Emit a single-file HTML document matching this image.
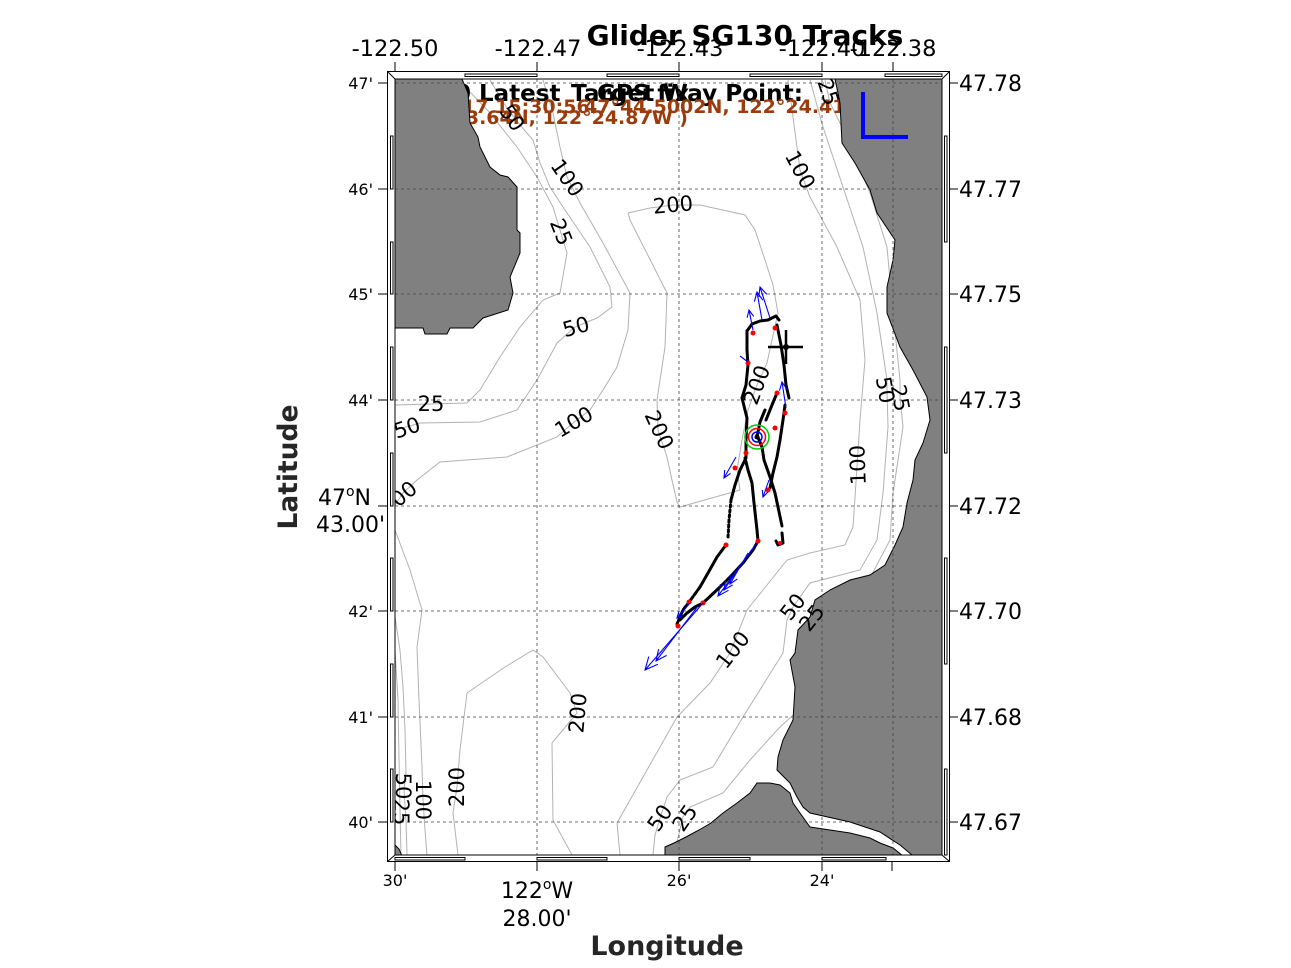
<!DOCTYPE html>
<html><head><meta charset="utf-8"><style>
html,body{margin:0;padding:0;background:#fff;}
svg{display:block;}
text{font-family:"DejaVu Sans","Liberation Sans",sans-serif;}
</style></head><body>
<svg width="1291" height="968" viewBox="0 0 1291 968" xmlns="http://www.w3.org/2000/svg">
<defs><clipPath id="map"><rect x="395" y="79" width="547" height="776"/></clipPath></defs>
<rect width="1291" height="968" fill="#fff"/>
<g clip-path="url(#map)">
<!-- contours -->
<g fill="none" stroke="#b2b2b2" stroke-width="1">
<polyline points="470,92 490,113 517,147 537,177 553,207 560,230 567,253 560,293 543,300 520,327 500,357 480,390 467,403 395,405"/>
<polyline points="490,80 505,105 520,125 533,140 540,163 550,187 563,207 590,247 610,287 612,307 597,318 575,327 557,343 537,380 517,410 480,422 420,423 395,430"/>
<polyline points="543,80 553,113 560,147 567,177 580,203 603,243 630,293 628,330 617,367 603,390 590,410 573,423 557,437 507,457 440,462 417,480 403,493 395,505"/>
<polyline points="395,530 410,570 422,610 417,647 419,700 422,767 423,800 425,830 427,855"/>
<polyline points="395,617 400,650 403,687 405,730 406,773 404,790 406,820 407,855"/>
<polyline points="395,650 398,700 399,760 400,810 401,855"/>
<polyline points="628,213 650,208 673,205 700,205 745,215 755,230 765,260 773,285 778,313 772,340 767,363 757,385 748,410 742,440 737,470 740,490 680,507 677,502 672,480 667,457 658,430 657,400 665,347 667,293 630,220 628,213"/>
<polyline points="458,855 453,813 457,787 460,750 467,693 505,667 533,650 543,657 570,693 577,713 557,737 552,743 553,820 572,855"/>
<polyline points="620,855 617,823 630,800 677,717 710,683 730,653 747,610 787,560 810,553 845,545 853,527 857,467 860,420 865,360 860,300 837,247 810,197 800,170 793,117 788,80"/>
<polyline points="653,855 655,835 660,818 667,797 680,780 713,767 743,717 783,653 787,620 793,607 810,583 860,570 877,540 883,493 888,427 887,390 887,380 877,313 863,247 843,187 823,127 810,80"/>
<polyline points="675,850 683,817 690,807 723,793 750,760 780,727 810,700 815,640 812,612 830,600 870,578 890,540 893,493 903,427 900,397 900,380 893,313 887,247 870,193 847,137 830,103 825,80"/>
</g>
<!-- header text (under land) -->
<g font-weight="bold">
<text x="439" y="101" font-size="23" fill="#000">10 Latest</text>
<text x="597" y="101" font-size="23" fill="#000">GPS fix</text>
<text x="571" y="101" font-size="23" fill="#000" textLength="232" lengthAdjust="spacingAndGlyphs">Target Way Point:</text>
<text x="367" y="113" font-size="19" fill="#9c3c0c">2012-04-17 15:30:56</text>
<text x="584" y="113" font-size="19" fill="#9c3c0c">47°44.5002N, 122°24.4136W</text>
<text x="408" y="124" font-size="19" fill="#9c3c0c">(47°43.64N, 122°24.87W )</text>
</g>
<!-- land -->
<g fill="#808080" stroke="#000" stroke-width="1">
<polygon points="395,79 462,79 468,93 470,123 478,137 480,147 490,167 500,175 508,177 517,187 517,230 520,233 520,253 510,277 513,293 508,310 483,318 473,328 450,328 447,334 425,334 423,328 395,328"/>
<polygon points="835,79 942,79 942,855 912,855 900,845 880,832 850,822 810,813 803,807 797,797 790,783 777,770 778,757 783,740 793,720 795,687 790,660 795,653 798,630 810,617 815,600 830,590 850,580 870,575 885,565 895,545 903,527 907,503 913,480 915,460 923,443 930,420 927,397 913,370 900,347 887,313 887,287 893,260 895,240 877,213 870,190 855,163 842,143 840,103"/>
<polygon points="665,856 665,847 674,843 686,837 699,830 711,823 723,813 737,803 750,793 757,783 770,783 780,785 790,793 793,803 800,813 810,827 830,830 850,833 870,838 880,843 893,848 903,856"/>
<polygon points="395,845 399,849 402,856 395,856"/>
</g>
<!-- grid -->
<g stroke="#444" stroke-width="0.8" stroke-dasharray="3 3" fill="none">
<line x1="395" y1="83" x2="942" y2="83"/><line x1="395" y1="189" x2="942" y2="189"/>
<line x1="395" y1="294" x2="942" y2="294"/><line x1="395" y1="400" x2="942" y2="400"/>
<line x1="395" y1="506" x2="942" y2="506"/><line x1="395" y1="611" x2="942" y2="611"/>
<line x1="395" y1="717" x2="942" y2="717"/><line x1="395" y1="822" x2="942" y2="822"/>
<line x1="537" y1="79" x2="537" y2="855"/><line x1="679" y1="79" x2="679" y2="855"/>
<line x1="822" y1="79" x2="822" y2="855"/><line x1="893" y1="79" x2="893" y2="855"/>
</g>
<!-- contour labels -->
<g font-size="21" fill="#000" text-anchor="middle" dominant-baseline="central">
<text transform="translate(512,118) rotate(55)">50</text>
<text transform="translate(567,178) rotate(55)">100</text>
<text transform="translate(561,232) rotate(68)">25</text>
<text transform="translate(673,205) rotate(-5)">200</text>
<text transform="translate(576,327) rotate(-15)">50</text>
<text transform="translate(431,404)">25</text>
<text transform="translate(407,428) rotate(-18)">50</text>
<text transform="translate(574,422) rotate(-30)">100</text>
<text transform="translate(659,430) rotate(65)">200</text>
<text transform="translate(404,494) rotate(-40)">00</text>
<text transform="translate(757,385) rotate(-70)">200</text>
<text transform="translate(800,170) rotate(62)">100</text>
<text transform="translate(828,92) rotate(72)">25</text>
<text transform="translate(885,390) rotate(80)">50</text>
<text transform="translate(900,398) rotate(80)">25</text>
<text transform="translate(858,465) rotate(-92)">100</text>
<text transform="translate(733,650) rotate(-52)">100</text>
<text transform="translate(793,607) rotate(-52)">50</text>
<text transform="translate(812,618) rotate(-52)">25</text>
<text transform="translate(578,713) rotate(-85)">200</text>
<text transform="translate(457,787) rotate(-90)">200</text>
<text transform="translate(423,800) rotate(90)">100</text>
<text transform="translate(403,786) rotate(90)">50</text>
<text transform="translate(401,812) rotate(90)">25</text>
<text transform="translate(660,818) rotate(-55)">50</text>
<text transform="translate(685,818) rotate(-55)">25</text>
</g>
<!-- blue L -->
<path d="M863,92 V137 H908" fill="none" stroke="#0000ff" stroke-width="4"/>
<!-- tracks -->
<g fill="none" stroke="#000" stroke-width="3" stroke-linecap="round" stroke-linejoin="round">
<polyline points="747,331 752,324 760,321 768,320 776,316 779,320"/>
<polyline points="747,331 747,350 748,365 746,385 742,398 747,418 746,440 746,458 740,470 735,485 731,500"/>
<polyline points="731,500 729,520 728,538" stroke-dasharray="2 3"/>
<polyline points="726,545 717,557 708,573 700,587"/>
<polyline points="700,587 692,598 683,610 677,624" stroke-dasharray="4 2"/>
<polyline points="777,325 781,345 784,365 786,385 789,398"/>
<polyline points="777,393 772,405 766,420"/>
<polyline points="785,405 783,420 780,440 777,457 773,473 770,488"/>
<polyline points="757,435 762,447 764,460 770,477 775,493 778,507 782,526"/>
<polyline points="745,458 748,470 752,483 754,503 757,530 758,541 753,550 743,563 730,577 720,587 703,603 695,607 687,613 680,620"/>
<polyline points="782,533 783,543 778,545 776,541"/>
<polyline points="757,437 760,422 765,410"/>
</g>
<g fill="#ff0000">
<circle cx="753" cy="333" r="2.5"/><circle cx="775" cy="328" r="2.5"/><circle cx="748" cy="363" r="2.5"/>
<circle cx="777" cy="393" r="2.5"/><circle cx="785" cy="413" r="2.5"/><circle cx="775" cy="428" r="2.5"/>
<circle cx="746" cy="453" r="2.5"/><circle cx="735" cy="468" r="2.5"/><circle cx="768" cy="490" r="2.5"/>
<circle cx="726" cy="545" r="2.5"/><circle cx="758" cy="541" r="2.5"/><circle cx="689" cy="602" r="2.5"/>
<circle cx="703" cy="603" r="2.5"/><circle cx="678" cy="626" r="2.5"/><circle cx="780" cy="543" r="2"/>
</g>
<!-- arrows -->
<g fill="none" stroke="#0000ff" stroke-width="1.1">
<path d="M770,318 L760,287 M758.8,296.9 L760,287 L766.8,294.3"/>
<path d="M762,320 L757,292 M754.4,301.7 L757,292 L762.8,300.2"/>
<path d="M753,330 L749,310 M747.1,317.8 L749,310 L753.7,316.4"/>
<path d="M748,362 L740,356"/>
<path d="M786,408 L782,382 M779.5,390.6 L782,382 L787,389.5"/>
<path d="M736,457 L724,478 M730.5,473.4 L724,478 L724.7,470"/>
<path d="M769,480 L763,497 M767.9,492 L763,497 L762.3,490"/>
<path d="M757,543 L718,596 M728.5,590.3 L718,596 L720.4,584.2"/>
<path d="M752,549 L724,590 M732.6,584.9 L724,590 L725.6,580.1"/>
<path d="M748,553 L730,584 M737.4,578.9 L730,584 L730.8,575"/>
<path d="M703,603 L645,670 M657.8,664.3 L645,670 L648.8,656.5"/>
<path d="M698,606 L656,661 M666.6,655.4 L656,661 L658.6,649.3"/>
<path d="M690,603 L677,618 M683.4,615.1 L677,618 L678.9,611.3"/>
</g>
<!-- circles -->
<circle cx="757" cy="437" r="12" fill="none" stroke="#00cc00" stroke-width="1.5"/>
<circle cx="757" cy="437" r="8.5" fill="none" stroke="#ff0000" stroke-width="1.5"/>
<circle cx="757" cy="437" r="5" fill="none" stroke="#0000ff" stroke-width="1.5"/>
<circle cx="757" cy="437" r="2.5" fill="#000"/>
<!-- crosshair -->
<g stroke="#000" stroke-width="2.5"><line x1="768" y1="347" x2="803" y2="347"/><line x1="786" y1="330" x2="786" y2="364"/></g>
<circle cx="786" cy="347" r="3" fill="#000"/>
</g>
<!-- frame -->
<g fill="none" stroke="#000" stroke-width="1">
<rect x="387.5" y="71.5" width="562" height="790"/>
<rect x="395" y="79" width="547" height="776"/>
<line x1="387.5" y1="71.5" x2="395" y2="79"/><line x1="949.5" y1="71.5" x2="942" y2="79"/>
<line x1="387.5" y1="861.5" x2="395" y2="855"/><line x1="949.5" y1="861.5" x2="942" y2="855"/>
</g>
<g fill="#fff" stroke="#000" stroke-width="1">
<rect x="390.5" y="136" width="2.5" height="53"/><rect x="390.5" y="242" width="2.5" height="52"/>
<rect x="390.5" y="347" width="2.5" height="53"/><rect x="390.5" y="453" width="2.5" height="53"/>
<rect x="390.5" y="558" width="2.5" height="53"/><rect x="390.5" y="664" width="2.5" height="53"/>
<rect x="390.5" y="769" width="2.5" height="53"/>
<rect x="944.5" y="136" width="2.5" height="106"/><rect x="944.5" y="347" width="2.5" height="106"/>
<rect x="944.5" y="558" width="2.5" height="106"/><rect x="944.5" y="769" width="2.5" height="86"/>
<rect x="465" y="74" width="72" height="2.5"/><rect x="607" y="74" width="72" height="2.5"/>
<rect x="750" y="74" width="72" height="2.5"/><rect x="885" y="74" width="57" height="2.5"/>
<rect x="395" y="857.5" width="70" height="2.5"/><rect x="537" y="857.5" width="70" height="2.5"/>
<rect x="679" y="857.5" width="71" height="2.5"/><rect x="822" y="857.5" width="64" height="2.5"/>
</g>
<!-- ticks -->
<g stroke="#000" stroke-width="1">
<line x1="395" y1="62" x2="395" y2="72"/><line x1="537" y1="62" x2="537" y2="72"/><line x1="679" y1="62" x2="679" y2="72"/><line x1="822" y1="62" x2="822" y2="72"/><line x1="893" y1="62" x2="893" y2="72"/>
<line x1="395" y1="861" x2="395" y2="871"/><line x1="537" y1="861" x2="537" y2="871"/><line x1="679" y1="861" x2="679" y2="871"/><line x1="822" y1="861" x2="822" y2="871"/><line x1="892" y1="861" x2="892" y2="871"/>
<line x1="378" y1="83" x2="388" y2="83"/><line x1="378" y1="189" x2="388" y2="189"/><line x1="378" y1="294" x2="388" y2="294"/><line x1="378" y1="400" x2="388" y2="400"/><line x1="378" y1="506" x2="388" y2="506"/><line x1="378" y1="611" x2="388" y2="611"/><line x1="378" y1="717" x2="388" y2="717"/><line x1="378" y1="822" x2="388" y2="822"/>
<line x1="949" y1="83" x2="958" y2="83"/><line x1="949" y1="189" x2="958" y2="189"/><line x1="949" y1="294" x2="958" y2="294"/><line x1="949" y1="400" x2="958" y2="400"/><line x1="949" y1="506" x2="958" y2="506"/><line x1="949" y1="611" x2="958" y2="611"/><line x1="949" y1="717" x2="958" y2="717"/><line x1="949" y1="822" x2="958" y2="822"/>
</g>
<!-- tick labels -->
<g font-size="22.5" fill="#000" text-anchor="middle">
<text x="395" y="56">-122.50</text><text x="538" y="56">-122.47</text><text x="680" y="56">-122.43</text><text x="822" y="56">-122.40</text><text x="893" y="56">-122.38</text>
</g>
<g font-size="22" fill="#000">
<text x="959" y="91">47.78</text><text x="959" y="197">47.77</text><text x="959" y="302">47.75</text><text x="959" y="408">47.73</text><text x="959" y="514">47.72</text><text x="959" y="619">47.70</text><text x="959" y="725">47.68</text><text x="959" y="830">47.67</text>
</g>
<g font-size="16" fill="#000" text-anchor="end">
<text x="373" y="89">47'</text><text x="373" y="195">46'</text><text x="373" y="300">45'</text><text x="373" y="406">44'</text><text x="373" y="617">42'</text><text x="373" y="723">41'</text><text x="373" y="828">40'</text>
</g>
<g font-size="22" fill="#000" text-anchor="end">
<text x="371" y="505">47<tspan font-size="14" dy="-9">o</tspan><tspan dy="9">N</tspan></text>
<text x="385" y="532">43.00'</text>
</g>
<g font-size="16" fill="#000" text-anchor="middle">
<text x="395" y="886">30'</text><text x="679" y="886">26'</text><text x="822" y="886">24'</text>
</g>
<g font-size="22" fill="#000" text-anchor="middle">
<text x="537" y="898">122<tspan font-size="14" dy="-9">o</tspan><tspan dy="9">W</tspan></text>
<text x="537" y="926">28.00'</text>
</g>
<!-- titles -->
<text x="745" y="45" font-size="28" font-weight="bold" text-anchor="middle" fill="#000">Glider SG130 Tracks</text>
<text x="667" y="955" font-size="27" font-weight="bold" text-anchor="middle" fill="#262626">Longitude</text>
<text transform="translate(297,467) rotate(-90)" font-size="26.5" font-weight="bold" text-anchor="middle" fill="#262626">Latitude</text>
</svg>
</body></html>
